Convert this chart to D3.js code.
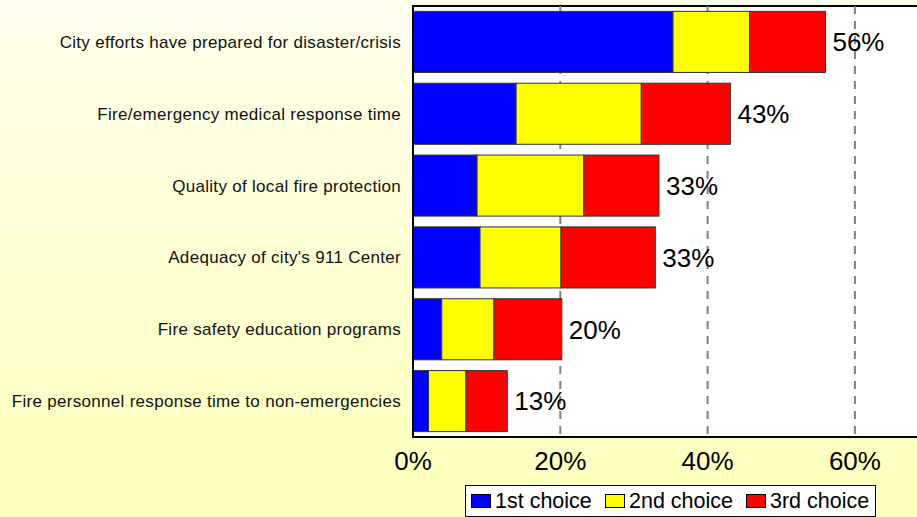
<!DOCTYPE html>
<html>
<head>
<meta charset="utf-8">
<script src="https://cdn.jsdelivr.net/npm/d3@7"></script>
<style>
html,body{margin:0;padding:0;overflow:hidden;background:#fff;}
svg{display:block;font-family:"Liberation Sans",Arial,sans-serif;}
</style>
</head>
<body>
<svg id="chart" width="917" height="517"></svg>
<script>
const categories = [
  "City efforts have prepared for disaster/crisis",
  "Fire/emergency medical response time",
  "Quality of local fire protection",
  "Adequacy of city's 911 Center",
  "Fire safety education programs",
  "Fire personnel response time to non-emergencies"
];
const firstChoice  = [35.3, 14.0, 8.7, 9.1, 3.9, 2.1];
const secondChoice = [10.4, 17.0, 14.5, 11.0, 7.1, 5.1];
const thirdChoice  = [10.3, 12.1, 10.2, 12.8, 9.2, 5.6];
const totalLabels  = ["56%", "43%", "33%", "33%", "20%", "13%"];
const seriesNames  = ["1st choice", "2nd choice", "3rd choice"];
const seriesColors = ["#0000FF", "#FFFF00", "#FF0000"];
const xTicks = [0, 20, 40, 60];   // visible tick labels (axis runs to 80%, off-canvas)
const xMax = 80;

const W = 917, H = 517;
const svg = d3.select("#chart");

// background gradient
const defs = svg.append("defs");
const grad = defs.append("linearGradient").attr("id","bg").attr("x1",0).attr("y1",0).attr("x2",0).attr("y2",1);
grad.append("stop").attr("offset","0%").attr("stop-color","#FFFFEE");
grad.append("stop").attr("offset","100%").attr("stop-color","#FFFFBB");
svg.append("rect").attr("width",W).attr("height",H).attr("fill","url(#bg)");

const plot = {left:413, top:6, bottom:437};
const x = d3.scaleLinear().domain([0,xMax]).range([plot.left, plot.left + 4*147.3]);
const y = d3.scaleBand().domain(categories).range([plot.top, plot.bottom]).paddingInner(0.15).paddingOuter(0.075);

// plot area
svg.append("rect").attr("x",plot.left).attr("y",plot.top)
  .attr("width",x(xMax)-plot.left).attr("height",plot.bottom-plot.top)
  .attr("fill","#fff").attr("stroke","#000").attr("stroke-width",2);

// gridlines
svg.append("g").selectAll("line").data(xTicks.filter(d=>d>0)).join("line")
  .attr("x1",d=>x(d)).attr("x2",d=>x(d)).attr("y1",plot.top).attr("y2",plot.bottom)
  .attr("stroke","#808080").attr("stroke-width",2).attr("stroke-dasharray","8,7");

// stacked bars
const rows = categories.map((c,i)=>({cat:c, vals:[firstChoice[i], secondChoice[i], thirdChoice[i]], label: totalLabels[i]}));
const stackData = rows.map(r=>({cat:r.cat, s0:r.vals[0], s1:r.vals[1], s2:r.vals[2]}));
const stack = d3.stack().keys(["s0","s1","s2"])(stackData);

svg.append("g").selectAll("g").data(stack).join("g")
  .attr("fill",(d,i)=>seriesColors[i])
  .selectAll("rect").data(d=>d).join("rect")
  .attr("x",d=>x(d[0])).attr("width",d=>x(d[1])-x(d[0]))
  .attr("y",d=>y(d.data.cat)).attr("height",y.bandwidth())
  .attr("stroke","#333").attr("stroke-width",1);

// axes lines redrawn on top
svg.append("line").attr("x1",plot.left).attr("x2",W).attr("y1",plot.bottom).attr("y2",plot.bottom)
  .attr("stroke","#000").attr("stroke-width",2);
svg.append("line").attr("x1",plot.left).attr("x2",plot.left).attr("y1",plot.top-1).attr("y2",plot.bottom+1)
  .attr("stroke","#000").attr("stroke-width",2);

// value labels
svg.append("g").selectAll("text").data(rows).join("text")
  .attr("x",d=>x(d3.sum(d.vals))+7).attr("y",d=>y(d.cat)+y.bandwidth()/2)
  .attr("dy","0.36em").attr("font-size",26).attr("fill","#000")
  .text(d=>d.label);

// category labels
svg.append("g").selectAll("text").data(categories).join("text")
  .attr("x",401).attr("y",d=>y(d)+y.bandwidth()/2)
  .attr("dy","0.35em").attr("text-anchor","end").attr("font-size",17)
  .attr("letter-spacing","0.3px").attr("fill","#111")
  .text(d=>d);

// x tick labels
svg.append("g").selectAll("text").data(xTicks).join("text")
  .attr("x",d=>x(d)).attr("y",470).attr("text-anchor","middle")
  .attr("font-size",26).attr("fill","#000")
  .text(d=>d+"%");

// legend
const lg = svg.append("g");
lg.append("rect").attr("x",465.5).attr("y",485.5).attr("width",410).attr("height",31)
  .attr("fill","#fff").attr("stroke","#000").attr("stroke-width",1);
const legX = [471, 605, 746];
seriesNames.forEach((n,i)=>{
  lg.append("rect").attr("x",legX[i]+0.5).attr("y",494.5).attr("width",19).attr("height",13)
    .attr("fill",seriesColors[i]).attr("stroke","#000").attr("stroke-width",1);
  lg.append("text").attr("x",legX[i]+24).attr("y",508).attr("font-size",21.5).attr("fill","#000").text(n);
});
</script>
</body>
</html>
